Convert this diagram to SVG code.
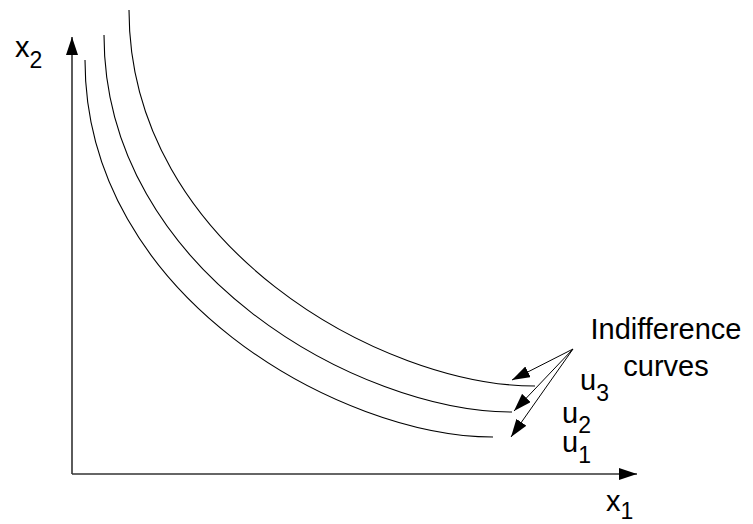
<svg xmlns="http://www.w3.org/2000/svg" width="753" height="524" viewBox="0 0 753 524">
<style>
.axis{stroke:#333;stroke-width:1.6;fill:none}
.curve{stroke:#000;stroke-width:1.1;fill:none}
.lbl{stroke:#000;stroke-width:1;fill:none}
text{font-family:"Liberation Sans",Arial,sans-serif;fill:#000}
.t{font-size:29px}
.s{font-size:23px}
</style>
<defs>
<marker id="ah" markerUnits="userSpaceOnUse" markerWidth="18" markerHeight="12" refX="18" refY="6" orient="auto">
<path d="M0,0 L18,6 L0,12 z" fill="#000"/>
</marker>
<marker id="la" markerUnits="userSpaceOnUse" markerWidth="18" markerHeight="12" refX="18" refY="6" orient="auto">
<path d="M0,0 L18,6 L0,12 z" fill="#000"/>
</marker>
</defs>
<g id="axes">
<line class="axis" x1="72" y1="474" x2="72" y2="37" marker-end="url(#ah)"/>
<line class="axis" x1="72" y1="474" x2="637" y2="474" marker-end="url(#ah)"/>
</g>
<g id="curve-u1"><path class="curve" d="M85,60 C85,297.5 342,437 493,437"/></g>
<g id="curve-u2"><path class="curve" d="M104,35 C104,272.5 361,412 512,412"/></g>
<g id="curve-u3"><path class="curve" d="M129,10 C129,247.5 384,386 535,386"/></g>
<g id="connectors">
<line class="lbl" x1="573" y1="349" x2="512" y2="380" marker-end="url(#la)"/>
<line class="lbl" x1="573" y1="349" x2="514" y2="411" marker-end="url(#la)"/>
<line class="lbl" x1="573" y1="349" x2="511" y2="437" marker-end="url(#la)"/>
</g>
<g id="labels">
<text class="t" x="666" y="339" text-anchor="middle">Indifference</text>
<text class="t" x="666" y="376" text-anchor="middle">curves</text>
<text class="t" x="580" y="390">u<tspan class="s" dy="11">3</tspan></text>
<text class="t" x="562" y="423">u<tspan class="s" dy="10">2</tspan></text>
<text class="t" x="562" y="452">u<tspan class="s" dy="11">1</tspan></text>
<text class="t" x="15" y="57">x<tspan class="s" dy="11">2</tspan></text>
<text class="t" x="606" y="511">x<tspan class="s" dy="8">1</tspan></text>
</g>
</svg>
